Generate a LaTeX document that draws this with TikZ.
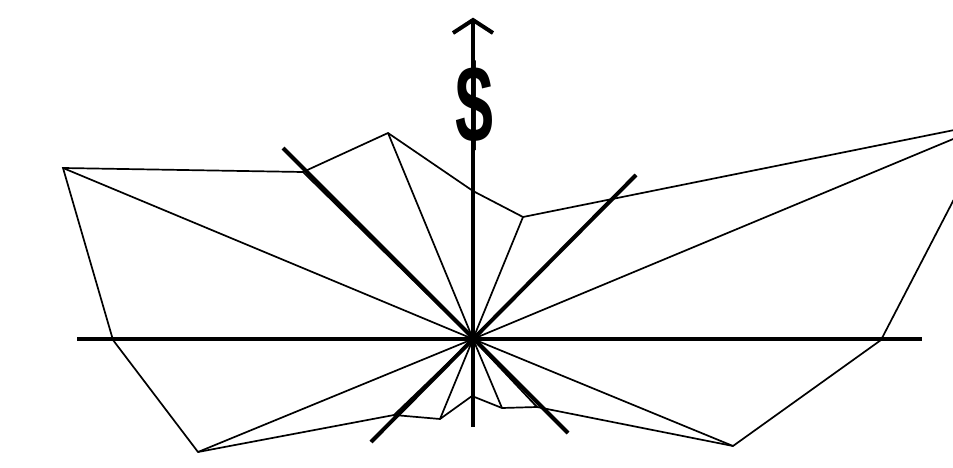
\documentclass[tikz,border=0pt]{standalone}
\usepackage{fontspec}
\setmainfont{Liberation Sans}
\tikzset{
  thinline/.style={line width=1.7pt, line join=miter},
  thickline/.style={line width=4pt},
}
\begin{document}
\begin{tikzpicture}[x=1pt,y=-1pt]
\useasboundingbox (0,0) rectangle (953,468);
\clip (0,0) rectangle (953,468);
\coordinate (C) at (473,339);
\coordinate (P1) at (63,168);
\coordinate (P2) at (303,172);
\coordinate (P3) at (388,133);
\coordinate (PT) at (473,191);
\coordinate (P4) at (523,217);
\coordinate (PR) at (994,122);
\coordinate (PRa) at (881,340);
\coordinate (P13) at (733,446);
\coordinate (P12) at (537,407);
\coordinate (P11) at (502,408);
\coordinate (P10) at (472,396);
\coordinate (P9) at (440,419);
\coordinate (P8) at (394,415);
\coordinate (P7) at (198,452);
\coordinate (P6) at (113,340);
% polygon
\draw[thinline] (P1) -- (P2) -- (P3) -- (PT) -- (P4) -- (PR) -- (PRa) -- (P13) -- (P12) -- (P11) -- (P10) -- (P9) -- (P8) -- (P7) -- (P6) -- cycle;
% spokes
\foreach \p in {P1,P2,P3,PT,P4,PR,PRa,P13,P12,P11,P10,P9,P8,P7,P6}
  \draw[thinline] (C) -- (\p);
% axes
\coordinate (HL) at (77,339);
\coordinate (HR) at (922,339);
\coordinate (VB) at (473,427);
\coordinate (VT) at (473,20);
\draw[thickline] (HL) -- (HR);
\draw[thickline] (VB) -- (VT);
\coordinate (AL) at (453,33);
\coordinate (AR) at (493,33);
\draw[thickline, line join=miter] (AL) -- (VT) -- (AR);
% diagonals
\coordinate (D1a) at (283,148);
\coordinate (D1b) at (568,433);
\coordinate (D2a) at (636,175);
\coordinate (D2b) at (371,442);
\draw[thickline] (D1a) -- (D1b);
\draw[thickline] (D2a) -- (D2b);
% dollar
\node[inner sep=0pt, xscale=0.62] (dollar) at (474,106) {\fontsize{110}{110}\selectfont\bfseries\$};
\end{tikzpicture}
\end{document}
